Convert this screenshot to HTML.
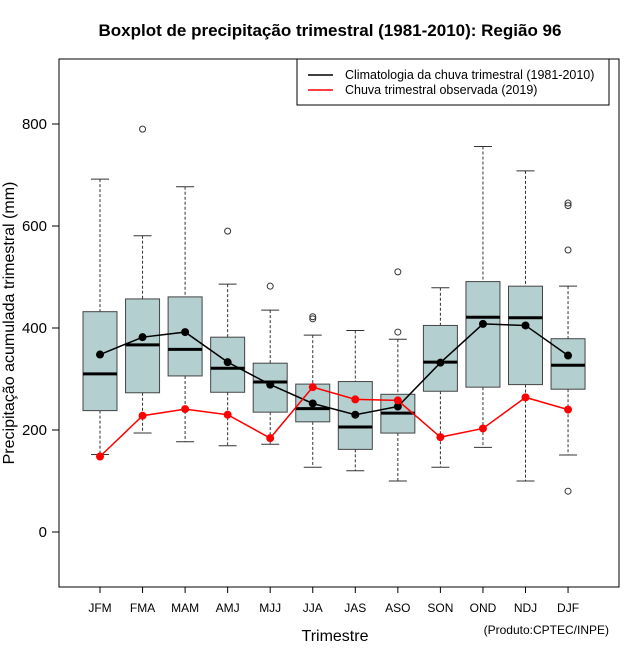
<!DOCTYPE html>
<html><head><meta charset="utf-8"><style>
body{margin:0;background:#fff}
text{font-family:"Liberation Sans",sans-serif}
</style></head><body>
<svg id="chart" width="640" height="660" xmlns="http://www.w3.org/2000/svg"></svg>
<script>
const categories=["JFM","FMA","MAM","AMJ","MJJ","JJA","JAS","ASO","SON","OND","NDJ","DJF"];
const lowerWhisker=[152,194,177,169,172,127,120,100,127,166,100,151];
const q1=[238,273,306,274,235,216,162,194,276,284,289,280];
const medians=[310,367,358,321,294,242,206,233,333,421,420,327];
const q3=[432,457,461,382,331,290,295,270,405,491,482,379];
const upperWhisker=[692,581,677,486,435,386,395,378,479,756,708,482];
const outliers=[[],[790],[],[590],[482],[422,418],[],[510,392],[],[],[],[645,640,553,80]];
const climatology=[348,382,392,333,289,252,230,246,332,408,405,346];
const observed=[148,228,241,230,184,284,260,258,186,203,264,240];
const yTicks=[0,200,400,600,800];

const svg=document.getElementById('chart');
const NS="http://www.w3.org/2000/svg";
const L=59,R=619,T=59,B=587;
const y=v=>532-v*0.51;
const x=i=>100+i*42.55;
function el(tag,attrs,parent){const e=document.createElementNS(NS,tag);for(const k in attrs)e.setAttribute(k,attrs[k]);(parent||svg).appendChild(e);return e;}

let t=el('text',{x:330,y:36,'text-anchor':'middle','font-size':17,'font-weight':'bold'});t.textContent="Boxplot de precipitação trimestral (1981-2010): Região 96";



let frame=el('rect',{x:L,y:T,width:R-L,height:B-T,fill:'none',stroke:'#000','stroke-width':1});



yTicks.forEach(v=>{
  let g=el('g',{});
  
  
  el('line',{x1:L-7,x2:L,y1:y(v),y2:y(v),stroke:'#000'},g);
  let tt=el('text',{x:L-12,y:y(v)+5,'text-anchor':'end','font-size':15},g);tt.textContent=v;
});
let yt=el('text',{x:14,y:323,'text-anchor':'middle','font-size':16,transform:'rotate(-90 14 323)'});yt.textContent="Precipitação acumulada trimestral (mm)";


let xt=el('text',{x:335,y:641,'text-anchor':'middle','font-size':16});xt.textContent="Trimestre";


let cr=el('text',{x:609,y:634,'text-anchor':'end','font-size':12});cr.textContent="(Produto:CPTEC/INPE)";



const hw=17;
categories.forEach((c,i)=>{
  const cx=x(i);
  let g=el('g',{});
  
  
  el('line',{x1:cx,x2:cx,y1:y(upperWhisker[i]),y2:y(q3[i]),stroke:'#333','stroke-dasharray':'3,2'},g);
  el('line',{x1:cx,x2:cx,y1:y(q1[i]),y2:y(lowerWhisker[i]),stroke:'#333','stroke-dasharray':'3,2'},g);
  el('line',{x1:cx-9,x2:cx+9,y1:y(upperWhisker[i]),y2:y(upperWhisker[i]),stroke:'#333'},g);
  el('line',{x1:cx-9,x2:cx+9,y1:y(lowerWhisker[i]),y2:y(lowerWhisker[i]),stroke:'#333'},g);
  el('rect',{x:cx-hw,y:y(q3[i]),width:2*hw,height:y(q1[i])-y(q3[i]),fill:'#b4cfcf',stroke:'#444'},g);
  el('line',{x1:cx-hw,x2:cx+hw,y1:y(medians[i]),y2:y(medians[i]),stroke:'#000','stroke-width':3},g);
  outliers[i].forEach(o=>el('circle',{cx:cx,cy:y(o),r:3,fill:'none',stroke:'#333'},g));
  let tl=el('line',{x1:cx,x2:cx,y1:B,y2:B+6,stroke:'#000'});
  
  
  let lb=el('text',{x:cx,y:612,'text-anchor':'middle','font-size':12});lb.textContent=c;
  
  
});

function series(vals,color,name){
  let g=el('g',{});
  
  
  el('polyline',{points:vals.map((v,i)=>x(i)+','+y(v)).join(' '),fill:'none',stroke:color,'stroke-width':1.5},g);
  vals.forEach((v,i)=>el('circle',{cx:x(i),cy:y(v),r:4,fill:color},g));
}
series(climatology,'#000','climatology-line');
series(observed,'#f00','observed-line');

let lg=el('g',{});


el('rect',{x:297,y:59,width:312,height:46,fill:'#fff',stroke:'#000'},lg);
el('line',{x1:308,x2:333,y1:75,y2:75,stroke:'#000','stroke-width':1.5},lg);
el('line',{x1:308,x2:333,y1:90,y2:90,stroke:'#f00','stroke-width':1.5},lg);
let l1=el('text',{x:345,y:79,'font-size':12.5},lg);l1.textContent="Climatologia da chuva trimestral (1981-2010)";
let l2=el('text',{x:345,y:94,'font-size':12.5},lg);l2.textContent="Chuva trimestral observada (2019)";
</script>
</body></html>
